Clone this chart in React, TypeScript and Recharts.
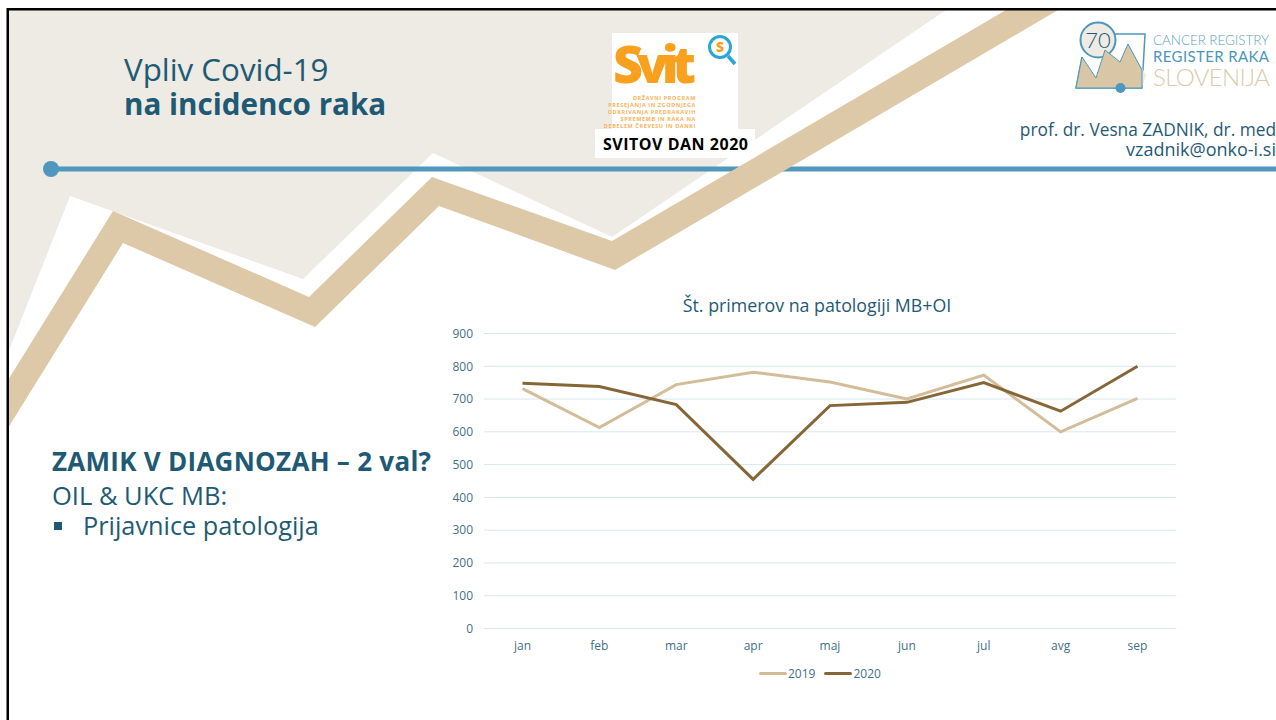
import { LineChart, Line, XAxis, YAxis, CartesianGrid, Legend } from "recharts";

const FONT = '"Open Sans", "Noto Sans", sans-serif';
const LOGO_FONT = 'Lato, "Open Sans", sans-serif';
const TEAL = "#1f5a75";
const TICK = "#3f6f87";
const GRID = "#d6e8f1";
const BLUE = "#4f97bd";
const TAN = "#ddc9a8";
const SAND = "#eeeae4";

// Values
const months = ["jan", "feb", "mar", "apr", "maj", "jun", "jul", "avg", "sep"];
const cases2019 = [732, 613, 744, 782, 752, 700, 773, 600, 702];
const cases2020 = [748, 738, 683, 455, 680, 690, 750, 663, 800];
const yTicks = [0, 100, 200, 300, 400, 500, 600, 700, 800, 900];
const programLines = [
  "DRŽAVNI PROGRAM",
  "PRESEJANJA IN ZGODNJEGA",
  "ODKRIVANJA PREDRAKAVIH",
  "SPREMEMB IN RAKA NA",
  "DEBELEM ČREVESU IN DANKI",
];

const chartData = months.map((month, i) => ({
  month,
  y2019: cases2019[i],
  y2020: cases2020[i],
}));

const legendItems = [
  { label: "2019", color: "#d3bc98" },
  { label: "2020", color: "#866637" },
];

function ChartLegend() {
  return (
    <div style={{ display: "flex", gap: 9, fontFamily: FONT, fontSize: 12, color: TICK, alignItems: "center" }}>
      {legendItems.map((item) => (
        <div key={item.label} style={{ display: "flex", alignItems: "center", gap: 1 }}>
          <div style={{ width: 28, height: 3, background: item.color, borderRadius: 2 }} />
          <span>{item.label}</span>
        </div>
      ))}
    </div>
  );
}

// Slide decoration behind the chart
function SlideBackground() {
  return (
    <svg width={1276} height={720} style={{ position: "absolute", left: 0, top: 0 }} fontFamily={FONT}>
      <polygon points="8,10 946,10 612,237 433,153 303,279 70,196 8,353" fill={SAND} />
      <rect x={51} y={166.5} width={1225} height={5} fill={BLUE} />
      <circle cx={51} cy={169} r={8} fill={BLUE} />
      <polygon points="8,380 113,211 309,297 432,177 612,241 1006,10 1058,10 615,270 439,206 315,327 123,243 8,428" fill={TAN} />

      <rect x={7} y={8} width={1269} height={2.5} fill="#000" />
      <rect x={6.5} y={8} width={2.5} height={712} fill="#000" />

      <text x={124} y={81} fontSize={31.3} fill={TEAL}>Vpliv Covid-19</text>
      <text x={124} y={115} fontSize={29.6} fontWeight={700} fill={TEAL}>na incidenco raka</text>

      {/* Svit logo */}
      <rect x={612} y={33} width={126} height={97} fill="#fff" />
      <text x={613} y={83} fontSize={52} fontWeight={800} fill="#f9a01f" textLength={83}>Svit</text>
      <circle cx={720} cy={47} r={10.5} fill="#fff" stroke="#2ba6d6" strokeWidth={3} />
      <line x1={728} y1={56} x2={735} y2={64} stroke="#2ba6d6" strokeWidth={3.5} />
      <text x={720} y={52} fontSize={14} fontWeight={800} textAnchor="middle" fill="#f9a01f">S</text>
      {programLines.map((line, i) => (
        <text key={line} x={696} y={100 + i * 7} fontSize={5.5} fontWeight={700} letterSpacing={0.6} textAnchor="end" fill="#f7b35a">
          {line}
        </text>
      ))}
      <rect x={595} y={129} width={160} height={29} fill="#fff" />
      <text x={603} y={150} fontSize={16} fontWeight={700} fill="#000" textLength={145}>SVITOV DAN 2020</text>

      {/* Cancer registry logo */}
      <polyline points="1115,34 1145,34 1142,88 1076,88 1082,57" fill="#fff" stroke={BLUE} strokeWidth={1.5} />
      <circle cx={1098} cy={40} r={17.5} fill={SAND} stroke={BLUE} strokeWidth={2} />
      <text x={1098} y={48} fontSize={22} fontFamily={LOGO_FONT} fontWeight={300} fill={TEAL} textAnchor="middle">70</text>
      <polygon points="1128,44 1146,75 1142,88 1128,88" fill={SAND} />
      <polygon points="1076,88 1082,57 1096,78 1105,50 1120,62 1128,44 1142,70 1142,88" fill="#d9c6a5" stroke={BLUE} strokeWidth={1} />
      <circle cx={1120.5} cy={88} r={5} fill={BLUE} />
      <g fontFamily={LOGO_FONT}>
        <text x={1153} y={45} fontSize={13.5} fontWeight={300} fill="#5ba3c5" textLength={116}>CANCER REGISTRY</text>
        <text x={1153} y={62} fontSize={15} fill="#4b95bb" textLength={116}>REGISTER RAKA</text>
        <text x={1153} y={86} fontSize={24} fontWeight={300} fill={TAN} textLength={117}>SLOVENIJA</text>
      </g>

      <text x={1276} y={136} fontSize={17.3} fill={TEAL} textAnchor="end">prof. dr. Vesna ZADNIK, dr. med</text>
      <text x={1276} y={156} fontSize={18} fill={TEAL} textAnchor="end">vzadnik@onko-i.si</text>

      {/* Left text block */}
      <text x={52} y={471} fontSize={26} fontWeight={700} fill={TEAL} textLength={379}>ZAMIK V DIAGNOZAH – 2 val?</text>
      <text x={52} y={505} fontSize={25.5} fill={TEAL}>OIL &amp; UKC MB:</text>
      <rect x={54} y={522} width={8} height={8} fill={TEAL} />
      <text x={83} y={535} fontSize={25.3} fill={TEAL}>Prijavnice patologija</text>

      <text x={817} y={312} fontSize={17.8} fill={TEAL} textAnchor="middle">Št. primerov na patologiji MB+OI</text>
    </svg>
  );
}

export default function App() {
  return (
    <div style={{ position: "absolute", left: 0, top: 0, width: 1276, height: 720, background: "#fff", overflow: "hidden" }}>
      <SlideBackground />
      <div style={{ position: "absolute", left: 440, top: 290 }}>
        <LineChart
          width={760}
          height={400}
          data={chartData}
          margin={{ top: 43.5, right: 24, bottom: 6.5, left: 0 }}
          style={{ fontFamily: FONT }}
        >
          <CartesianGrid stroke={GRID} vertical={false} />
          <XAxis
            dataKey="month"
            height={30}
            padding={{ left: 38.5, right: 38.5 }}
            tick={{ fontSize: 12, fill: TICK }}
            axisLine={{ stroke: GRID }}
            tickLine={false}
            tickMargin={7}
          />
          <YAxis
            width={44}
            domain={[0, 900]}
            ticks={yTicks}
            interval={0}
            tick={{ fontSize: 12, fill: TICK }}
            axisLine={false}
            tickLine={false}
            tickMargin={5}
          />
          <Legend
            height={25}
            content={<ChartLegend />}
            wrapperStyle={{ left: 319, width: "auto", bottom: 0.5 }}
          />
          <Line dataKey="y2019" name="2019" stroke="#d3bc98" strokeWidth={3} dot={false} isAnimationActive={false} />
          <Line dataKey="y2020" name="2020" stroke="#866637" strokeWidth={3} dot={false} isAnimationActive={false} />
        </LineChart>
      </div>
    </div>
  );
}
